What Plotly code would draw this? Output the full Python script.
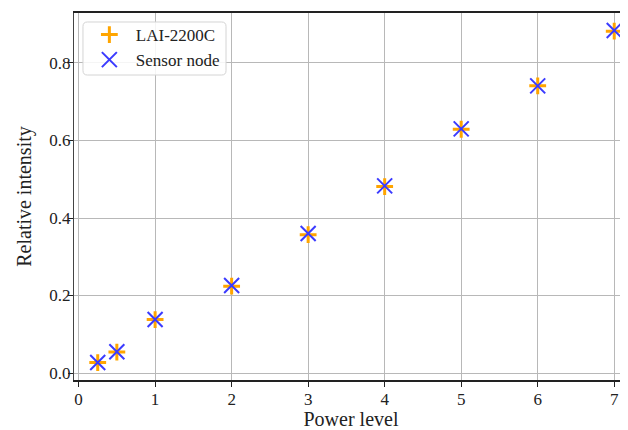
import plotly.graph_objects as go

power_level = [0.25, 0.5, 1, 2, 3, 4, 5, 6, 7]
lai_2200c = [0.027, 0.054, 0.138, 0.224, 0.357, 0.481, 0.629, 0.741, 0.882]
sensor_node = [0.027, 0.055, 0.138, 0.226, 0.360, 0.483, 0.630, 0.741, 0.884]
x_ticks = [0, 1, 2, 3, 4, 5, 6, 7]
y_ticks = [0.0, 0.2, 0.4, 0.6, 0.8]

font_family = "Liberation Serif"

fig = go.Figure()
fig.add_trace(go.Scatter(
    x=power_level, y=lai_2200c, mode="markers", name="LAI-2200C",
    marker=dict(symbol="cross-thin", size=12, color="#ffa500",
                line=dict(color="#ffa500", width=3)),
))
fig.add_trace(go.Scatter(
    x=power_level, y=sensor_node, mode="markers", name="Sensor node",
    marker=dict(symbol="x-thin", size=15, color="#3b3bff",
                line=dict(color="#3b3bff", width=2)),
))

# rounded legend frame (paper coordinates)
lx0, lx1, ly0, ly1, rr = 0.0162, 0.2744, 0.831, 0.9755, 0.008
ry = rr * 554 / 367
frame = (f"M {lx0+rr},{ly1} L {lx1-rr},{ly1} Q {lx1},{ly1} {lx1},{ly1-ry} "
         f"L {lx1},{ly0+ry} Q {lx1},{ly0} {lx1-rr},{ly0} "
         f"L {lx0+rr},{ly0} Q {lx0},{ly0} {lx0},{ly0+ry} "
         f"L {lx0},{ly1-ry} Q {lx0},{ly1} {lx0+rr},{ly1} Z")

# the page body adds an 8px margin, so the figure is 8px smaller each way
fig.update_layout(
    width=620, height=422,
    margin=dict(l=66, r=0, t=5, b=50, autoexpand=False),
    paper_bgcolor="white", plot_bgcolor="white",
    font=dict(family=font_family, size=17, color="#222"),
    showlegend=True,
    shapes=[dict(type="path", path=frame, xref="paper", yref="paper", layer="above",
                 fillcolor="rgba(255,255,255,0.85)", line=dict(color="#d4d4d4", width=1))],
    legend=dict(x=0.016, y=0.9891, xanchor="left", yanchor="top", itemwidth=43,
                bgcolor="rgba(0,0,0,0)", borderwidth=0,
                font=dict(size=17, family=font_family, color="#222")),
    xaxis=dict(
        range=[-0.06, 7.18], tickvals=x_ticks, ticktext=[str(v) for v in x_ticks],
        showgrid=True, gridcolor="#b8b8b8", gridwidth=1, zeroline=False,
        showline=True, linecolor="#222", linewidth=1.5, mirror=True,
        ticks="outside", ticklen=5, tickcolor="#222", automargin=False,
        ticklabelstandoff=-2,
        tickfont=dict(size=17, family=font_family, color="#222"),
        title=dict(text="Power level", font=dict(size=20, family=font_family, color="#222"), standoff=3),
    ),
    yaxis=dict(
        range=[-0.018, 0.929], tickvals=y_ticks, ticktext=[f"{v:.1f}" for v in y_ticks],
        showgrid=True, gridcolor="#b8b8b8", gridwidth=1, zeroline=False,
        showline=True, linecolor="#444", linewidth=1.2,
        ticks="outside", ticklen=5, tickcolor="#222", automargin=False,
        ticklabelstandoff=-6,
        tickfont=dict(size=17, family=font_family, color="#222"),
        title=dict(text="Relative intensity", font=dict(size=20, family=font_family, color="#222"), standoff=12),
    ),
)

fig.write_html("out.html")
